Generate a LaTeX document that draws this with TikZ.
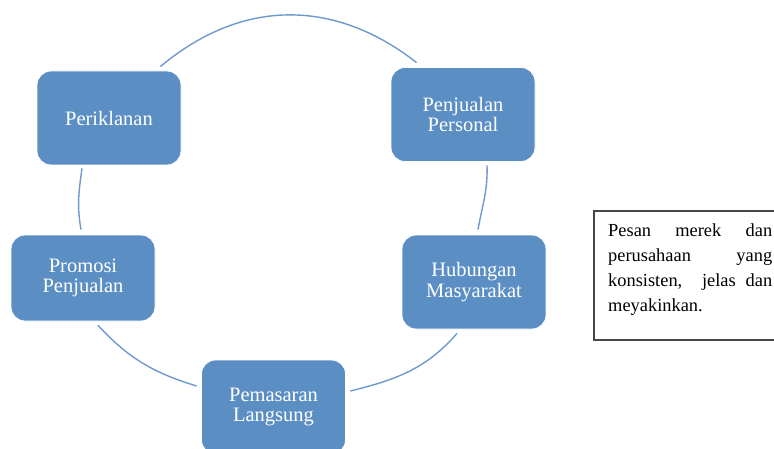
\documentclass[tikz,border=0pt]{standalone}
\usepackage{fontspec}
\setmainfont{Liberation Serif}
\definecolor{boxblue}{RGB}{91,143,196}
\definecolor{ringblue}{RGB}{108,154,206}
\definecolor{msgframe}{RGB}{70,70,70}
\begin{document}
\begin{tikzpicture}[x=1pt,y=1pt,
  cyclebox/.style={fill=boxblue, draw=white, line width=0.8pt, rounded corners=14pt,
    minimum width=144pt, minimum height=94pt, inner sep=0pt, text=white, align=center,
    font=\fontsize{20.5}{20.5}\selectfont},
  ring/.style={draw=ringblue, line width=1.4pt},
  msgbox/.style={draw=msgframe, line width=1.3pt, minimum width=186pt, minimum height=129pt, inner sep=0pt},
  msgtext/.style={text width=164pt, align=left, inner sep=0pt, font=\fontsize{18.4}{25}\selectfont}]
\useasboundingbox (0,0) rectangle (774,448);

\node[cyclebox] (P1) at (109,330) {Periklanan};
\node[cyclebox] (P2) at (463,333.5) {Penjualan\\Personal};
\node[cyclebox] (P3) at (474,166) {Hubungan\\Masyarakat};
\node[cyclebox] (P4) at (273.5,41) {Pemasaran\\Langsung};
\node[cyclebox, minimum height=86pt] (P5) at (83,170) {Promosi\\Penjualan};

\coordinate (a1s) at ([shift={(-21,4)}]P1.north east);
\coordinate (a1e) at ([shift={(26,4.5)}]P2.north west);
\coordinate (a2s) at ([shift={(24,-3.5)}]P2.south);
\coordinate (a2e) at ([shift={(4,5)}]P3.north);
\coordinate (a3s) at ([shift={(-17,-4)}]P3.south);
\coordinate (a3e) at ([shift={(4.5,16)}]P4.east);
\coordinate (a4s) at ([shift={(-4.5,21)}]P4.west);
\coordinate (a4e) at ([shift={(15,-4)}]P5.south);
\coordinate (a5s) at ([shift={(-2,5)}]P5.north);
\coordinate (a5e) at ([shift={(-27,-3)}]P1.south);

\draw[ring] (a1s) to[out=40,in=142,looseness=1.05] (a1e);
\draw[ring] (a2s) to[out=-88,in=80] (a2e);
\draw[ring] (a3s) to[out=-131,in=14] (a3e);
\draw[ring] (a4s) to[out=163,in=-47] (a4e);
\draw[ring] (a5s) to[out=100,in=-98] (a5e);

\node[msgbox] (msg) at (687,172.5) {};
\node[msgtext, anchor=north west] (msgt) at (608,224)
  {\makebox[164pt][l]{Pesan\hfill merek\hfill dan}\\
   \makebox[164pt][l]{perusahaan\hfill yang}\\
   \makebox[164pt][l]{konsisten,\hspace{\stretch{2}}jelas\hspace{\stretch{1}}dan}\\
   meyakinkan.};
\end{tikzpicture}
\end{document}
